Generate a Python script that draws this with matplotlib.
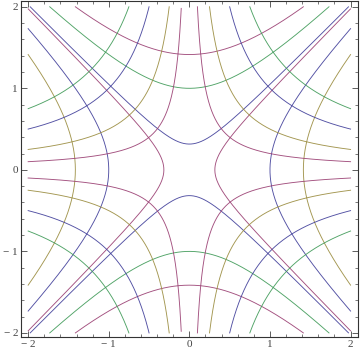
import numpy as np
import matplotlib
matplotlib.use("Agg")
import matplotlib.pyplot as plt

# contour levels and their colours (Mathematica default palette)
BLUE = (0.247, 0.24, 0.6)
MAGENTA = (0.6, 0.24, 0.443)
GOLD = (0.6, 0.547, 0.24)
GREEN = (0.24, 0.6, 0.337)

# y^2 - x^2 = c  (opening up / down)
updown_levels = [0.1, 1.0, 2.0]
updown_colors = [BLUE, GREEN, MAGENTA]
# x^2 - y^2 = c  (opening left / right)
leftright_levels = [0.1, 1.0, 2.0]
leftright_colors = [MAGENTA, BLUE, GOLD]
# x * y = +/- c
xy_levels = [0.2, 0.5, 1.0, 1.5]
xy_colors = [MAGENTA, GOLD, BLUE, GREEN]

tick_vals = [-2, -1, 0, 1, 2]
tick_labels = ["\u2212 2", "\u2212 1", "0", "1", "2"]

LIM = 2.0
t = np.linspace(-LIM, LIM, 4001)

fig = plt.figure(figsize=(3.6, 3.54), dpi=100)
ax = fig.add_axes([0.058, 0.048, 0.936, 0.949])
lw = 0.65

def clip(a, b):
    a = a.copy(); b = b.copy()
    bad = (np.abs(a) > LIM) | (np.abs(b) > LIM)
    a[bad] = np.nan; b[bad] = np.nan
    return a, b

for c, col in zip(updown_levels, updown_colors):
    y = np.sqrt(t**2 + c)
    for s in (1, -1):
        xx, yy = clip(t, s * y)
        ax.plot(xx, yy, color=col, lw=lw, alpha=0.9)

for c, col in zip(leftright_levels, leftright_colors):
    x = np.sqrt(t**2 + c)
    for s in (1, -1):
        xx, yy = clip(s * x, t)
        ax.plot(xx, yy, color=col, lw=lw, alpha=0.9)

for c, col in zip(xy_levels, xy_colors):
    for sgn in (1, -1):
        for half in (t[t > 0], t[t < 0]):
            xx, yy = clip(half, sgn * c / half)
            ax.plot(xx, yy, color=col, lw=lw, alpha=0.9)

ax.set_xlim(-2.09, 2.09)
ax.set_ylim(-2.05, 2.07)

ax.set_xticks(tick_vals)
ax.set_yticks(tick_vals)
ax.set_xticklabels(tick_labels, family="Liberation Serif")
ax.set_yticklabels(tick_labels, family="Liberation Serif")
ax.set_xticks(np.arange(-2, 2.01, 0.2), minor=True)
ax.set_yticks(np.arange(-2, 2.01, 0.2), minor=True)
ax.tick_params(which="both", direction="in", top=True, right=True,
               labelsize=8, colors="#444444", pad=2)
ax.tick_params(which="major", length=4, width=0.6)
ax.tick_params(which="minor", length=2, width=0.5)
for s in ax.spines.values():
    s.set_color("#333333")
    s.set_linewidth(0.8)

fig.savefig("out.png", dpi=100)
